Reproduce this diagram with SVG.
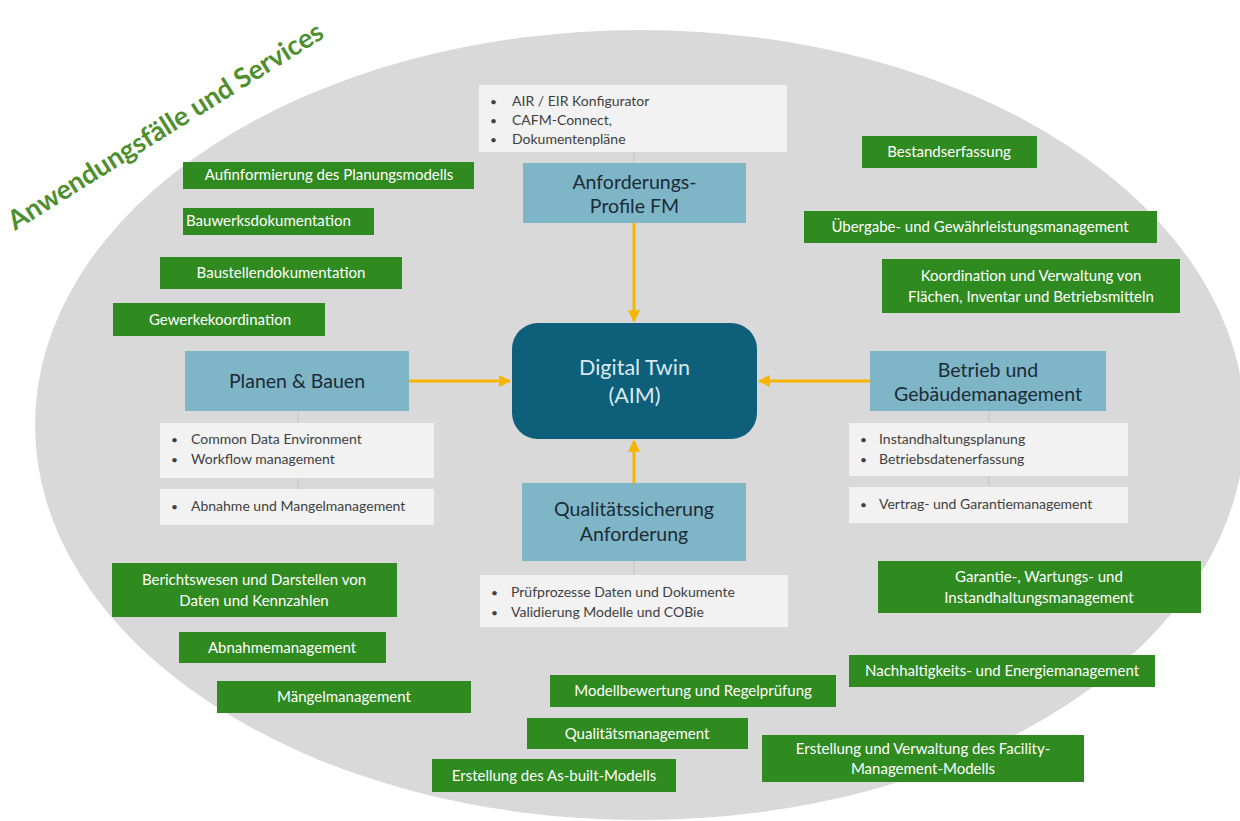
<svg xmlns="http://www.w3.org/2000/svg" width="1240" height="821" viewBox="0 0 1240 821">
  <style>
    .uc rect { fill: #2f8a1f; }
    .uc text { fill: #ffffff; font-family: Lato, "Liberation Sans", sans-serif; font-size: 15px; text-anchor: middle; }
    .area rect { fill: #7eb6c8; }
    .area text { fill: #1c2b36; font-family: Lato, "Liberation Sans", sans-serif; font-size: 19.5px; text-anchor: middle; }
    .list rect { fill: #f2f2f2; }
    .list text { fill: #404040; font-family: Lato, "Liberation Sans", sans-serif; font-size: 14px; }
    .list .dot { font-size: 12px; }
    .tick { stroke: #c4c4c4; stroke-width: 1; }
    .flow { stroke: #f7b500; stroke-width: 3; fill: none; marker-end: url(#head); }
  </style>
  <defs>
    <marker id="head" viewBox="0 0 10 10" refX="9" refY="5" markerWidth="4" markerHeight="4" orient="auto">
      <path d="M0,0 L10,5 L0,10 z" fill="#f7b500"/>
    </marker>
  </defs>

  <rect width="1240" height="821" fill="#ffffff"/>
  <ellipse cx="640" cy="425" rx="605" ry="395" fill="#d9d9d9"/>

  <text transform="translate(15,231) rotate(-32)" font-family="Lato, 'Liberation Sans', sans-serif" font-weight="bold" font-size="27" fill="#4f8f2f">Anwendungsfälle und Services</text>

  <!-- light guide ticks between areas and their lists -->
  <g id="ticks">
    <line class="tick" x1="634" y1="152" x2="634" y2="163"/>
    <line class="tick" x1="298" y1="411" x2="298" y2="423"/>
    <line class="tick" x1="298" y1="478" x2="298" y2="489"/>
    <line class="tick" x1="989" y1="411" x2="989" y2="423"/>
    <line class="tick" x1="989" y1="476" x2="989" y2="487"/>
    <line class="tick" x1="634" y1="561" x2="634" y2="575"/>
  </g>

  <!-- connectors into the digital twin -->
  <g id="connectors">
    <line class="flow" x1="634" y1="223" x2="634" y2="321"/>
    <line class="flow" x1="409" y1="381" x2="510" y2="381"/>
    <line class="flow" x1="870" y1="381" x2="759" y2="381"/>
    <line class="flow" x1="634" y1="483" x2="634" y2="441"/>
  </g>

  <g id="digital-twin">
    <rect x="512" y="323" width="245" height="116" rx="26" fill="#0d5f7a"/>
    <text x="634.5" y="375" font-family="Lato, 'Liberation Sans', sans-serif" font-size="21.5" fill="#dbe9ef" text-anchor="middle">Digital Twin</text>
    <text x="634.5" y="403" font-family="Lato, 'Liberation Sans', sans-serif" font-size="21.5" fill="#dbe9ef" text-anchor="middle">(AIM)</text>
  </g>

  <g id="anforderungsprofile" class="area">
    <rect x="523" y="163" width="223" height="60"/>
    <text x="634.5" y="189">Anforderungs-</text>
    <text x="634.5" y="213">Profile FM</text>
  </g>
  <g id="planen-bauen" class="area">
    <rect x="185" y="351" width="224" height="60"/>
    <text x="297" y="388">Planen &amp; Bauen</text>
  </g>
  <g id="betrieb" class="area">
    <rect x="870" y="351" width="236" height="60"/>
    <text x="988" y="377">Betrieb und</text>
    <text x="988" y="401">Gebäudemanagement</text>
  </g>
  <g id="qualitaetssicherung" class="area">
    <rect x="522" y="483" width="224" height="78"/>
    <text x="634" y="516">Qualitätssicherung</text>
    <text x="634" y="541">Anforderung</text>
  </g>

  <g id="list-anforderung" class="list">
    <rect x="479" y="85" width="308" height="67"/>
    <text class="dot" x="490" y="106">•</text><text x="512" y="106">AIR / EIR Konfigurator</text>
    <text class="dot" x="490" y="125">•</text><text x="512" y="125">CAFM-Connect,</text>
    <text class="dot" x="490" y="144">•</text><text x="512" y="144">Dokumentenpläne</text>
  </g>
  <g id="list-planen-1" class="list">
    <rect x="160" y="423" width="274" height="55"/>
    <text class="dot" x="171" y="444">•</text><text x="191" y="444">Common Data Environment</text>
    <text class="dot" x="171" y="464">•</text><text x="191" y="464">Workflow management</text>
  </g>
  <g id="list-planen-2" class="list">
    <rect x="160" y="489" width="274" height="36"/>
    <text class="dot" x="171" y="511">•</text><text x="191" y="511">Abnahme und Mangelmanagement</text>
  </g>
  <g id="list-betrieb-1" class="list">
    <rect x="849" y="423" width="279" height="53"/>
    <text class="dot" x="860" y="444">•</text><text x="879" y="444">Instandhaltungsplanung</text>
    <text class="dot" x="860" y="464">•</text><text x="879" y="464">Betriebsdatenerfassung</text>
  </g>
  <g id="list-betrieb-2" class="list">
    <rect x="849" y="487" width="279" height="36"/>
    <text class="dot" x="860" y="509">•</text><text x="879" y="509">Vertrag- und Garantiemanagement</text>
  </g>
  <g id="list-qualitaet" class="list">
    <rect x="480" y="575" width="308" height="52"/>
    <text class="dot" x="491" y="597">•</text><text x="511" y="597">Prüfprozesse Daten und Dokumente</text>
    <text class="dot" x="491" y="617">•</text><text x="511" y="617">Validierung Modelle und COBie</text>
  </g>

  <!-- use cases -->
  <g id="uc-aufinformierung" class="uc">
    <rect x="183" y="162" width="291" height="27"/>
    <text x="329" y="180">Aufinformierung des Planungsmodells</text>
  </g>
  <g id="uc-bauwerksdoku" class="uc">
    <rect x="183" y="208" width="191" height="27"/>
    <text x="186" y="226" style="text-anchor:start">Bauwerksdokumentation</text>
  </g>
  <g id="uc-baustellendoku" class="uc">
    <rect x="160" y="257" width="242" height="32"/>
    <text x="281" y="278">Baustellendokumentation</text>
  </g>
  <g id="uc-gewerke" class="uc">
    <rect x="113" y="303" width="212" height="33"/>
    <text x="220" y="325">Gewerkekoordination</text>
  </g>
  <g id="uc-bestand" class="uc">
    <rect x="862" y="136" width="175" height="32"/>
    <text x="949" y="157">Bestandserfassung</text>
  </g>
  <g id="uc-uebergabe" class="uc">
    <rect x="804" y="211" width="353" height="32"/>
    <text x="980" y="232">Übergabe- und Gewährleistungsmanagement</text>
  </g>
  <g id="uc-flaechen" class="uc">
    <rect x="882" y="259" width="298" height="54"/>
    <text x="1031" y="281">Koordination und Verwaltung von</text>
    <text x="1031" y="302">Flächen, Inventar und Betriebsmitteln</text>
  </g>
  <g id="uc-berichtswesen" class="uc">
    <rect x="112" y="563" width="285" height="54"/>
    <text x="254" y="585">Berichtswesen und Darstellen von</text>
    <text x="254" y="606">Daten und Kennzahlen</text>
  </g>
  <g id="uc-abnahme" class="uc">
    <rect x="179" y="632" width="207" height="31"/>
    <text x="282" y="653">Abnahmemanagement</text>
  </g>
  <g id="uc-maengel" class="uc">
    <rect x="217" y="681" width="254" height="32"/>
    <text x="344" y="702">Mängelmanagement</text>
  </g>
  <g id="uc-modellbewertung" class="uc">
    <rect x="550" y="675" width="286" height="32"/>
    <text x="693" y="696">Modellbewertung und Regelprüfung</text>
  </g>
  <g id="uc-qualitaet" class="uc">
    <rect x="527" y="718" width="221" height="31"/>
    <text x="637" y="739">Qualitätsmanagement</text>
  </g>
  <g id="uc-asbuilt" class="uc">
    <rect x="432" y="759" width="244" height="33"/>
    <text x="554" y="781">Erstellung des As-built-Modells</text>
  </g>
  <g id="uc-garantie" class="uc">
    <rect x="878" y="561" width="323" height="52"/>
    <text x="1039" y="582">Garantie-, Wartungs- und</text>
    <text x="1039" y="603">Instandhaltungsmanagement</text>
  </g>
  <g id="uc-nachhaltigkeit" class="uc">
    <rect x="849" y="655" width="306" height="32"/>
    <text x="1002" y="676">Nachhaltigkeits- und Energiemanagement</text>
  </g>
  <g id="uc-fm-modell" class="uc">
    <rect x="762" y="735" width="322" height="47"/>
    <text x="923" y="754">Erstellung und Verwaltung des Facility-</text>
    <text x="923" y="774">Management-Modells</text>
  </g>
</svg>
